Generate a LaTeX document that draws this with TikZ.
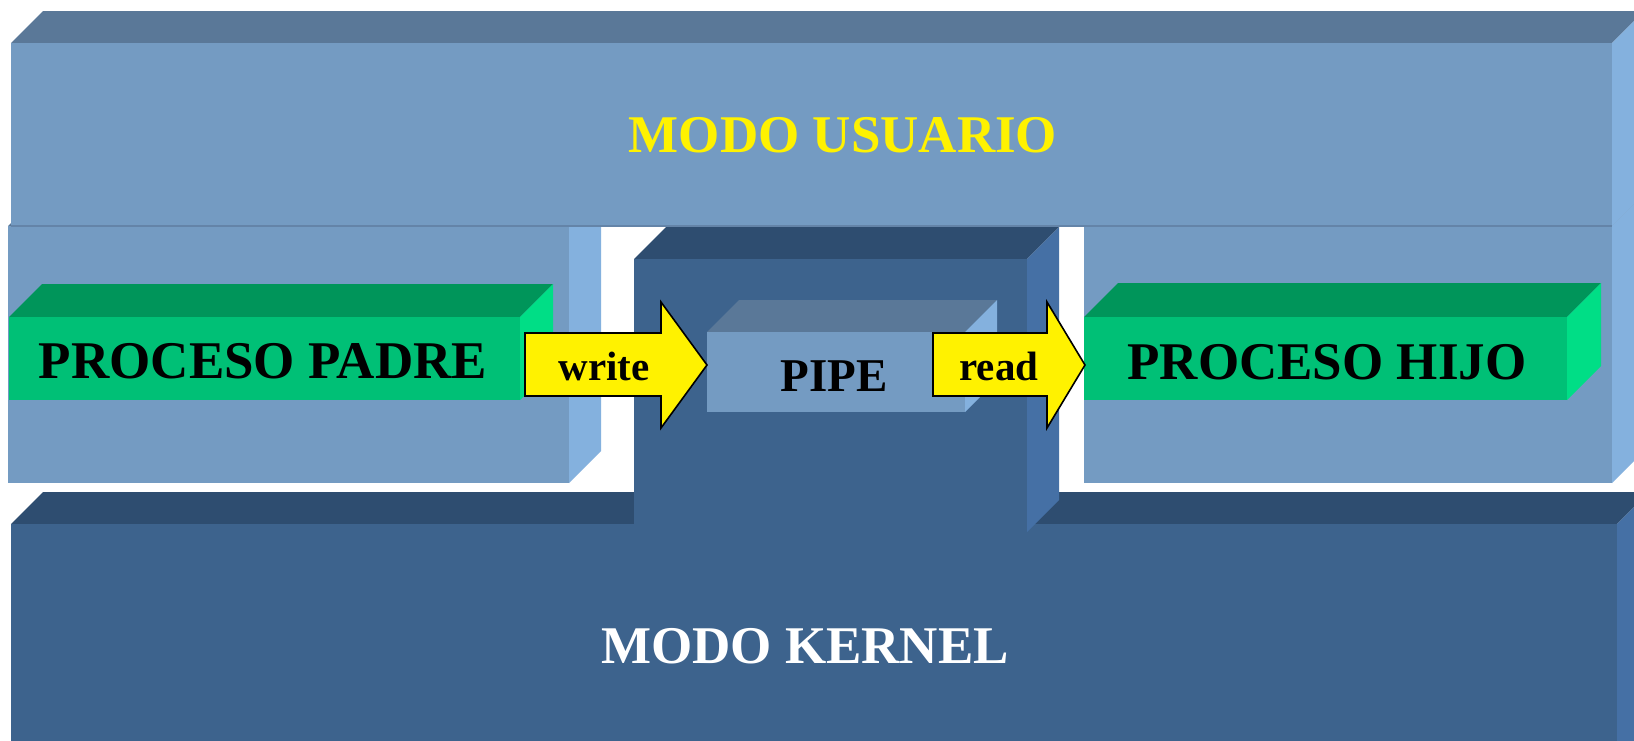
\documentclass[tikz,border=0pt]{standalone}
\usepackage{fontspec}
\setmainfont{Liberation Serif}
\definecolor{ufront}{RGB}{116,155,194}
\definecolor{utop}{RGB}{90,120,152}
\definecolor{uside}{RGB}{132,177,222}
\definecolor{uedge}{RGB}{100,132,168}
\definecolor{kfront}{RGB}{61,99,141}
\definecolor{ktop}{RGB}{46,77,112}
\definecolor{kside}{RGB}{69,112,165}
\definecolor{gfront}{RGB}{0,192,118}
\definecolor{gtop}{RGB}{0,149,90}
\definecolor{gside}{RGB}{0,222,134}
\newcommand{\mycuboid}[8]{%
  \fill[#6] (#1,#2) -- (#1+#5,#2-#5) -- (#3+#5,#2-#5) -- (#3,#2) -- cycle;
  \fill[#8] (#3,#2) -- (#3+#5,#2-#5) -- (#3+#5,#4-#5) -- (#3,#4) -- cycle;
  \fill[#7] (#1,#2) rectangle (#3,#4);
}
\tikzset{
  bigtxt/.style={font=\fontsize{53}{60}\selectfont\bfseries, inner sep=0pt, anchor=base},
  pipetxt/.style={font=\fontsize{47}{54}\selectfont\bfseries, inner sep=0pt, anchor=base},
  arrtxt/.style={font=\fontsize{41}{48}\selectfont\bfseries, inner sep=0pt, anchor=base},
  yarrow/.style={fill=yellow, draw=black, line width=1.6pt, line join=miter},
}
\begin{document}
\begin{tikzpicture}[x=1pt,y=-1pt]
\useasboundingbox (0,0) rectangle (1634,740);
\clip (0,0) rectangle (1634,740);
\fill[white] (0,0) rectangle (1634,740);
% kernel box
\mycuboid{11}{524}{1617}{790}{32}{ktop}{kfront}{kside}
% process containers
\mycuboid{8}{226}{569}{483}{32}{utop}{ufront}{uside}
\mycuboid{1084}{226}{1612}{483}{32}{utop}{ufront}{uside}
% user mode box
\mycuboid{11}{43}{1612}{226}{32}{utop}{ufront}{uside}
\draw[uedge, line width=1.2pt] (11,226) -- (1612,226);
% pipe box
\mycuboid{634}{259}{1027}{532}{32}{ktop}{kfront}{kside}
% pipe inner box
\mycuboid{707}{332}{965}{412}{32}{utop}{ufront}{uside}
% green process boxes
\mycuboid{9}{317}{520}{400}{33}{gtop}{gfront}{gside}
\mycuboid{1084}{317}{1567}{400}{34}{gtop}{gfront}{gside}
% arrows
\coordinate (wt) at (707,365);
\coordinate (rt) at (1085,365);
\draw[yarrow] (525,333) -- (661,333) -- (661,302) -- (wt) -- (661,428) -- (661,396) -- (525,396) -- cycle;
\draw[yarrow] (933,333) -- (1047,333) -- (1047,302) -- (rt) -- (1047,428) -- (1047,396) -- (933,396) -- cycle;
% texts
\node[bigtxt, text=yellow] (usuario) at (843,152) {MODO USUARIO};
\node[bigtxt, text=white] (kernel) at (805,663) {MODO KERNEL};
\node[bigtxt] (padre) at (263,378) {PROCESO PADRE};
\node[bigtxt] (hijo) at (1327,379) {PROCESO HIJO};
\node[pipetxt] (pipe) at (834,391) {PIPE};
\node[arrtxt] (write) at (604,380) {write};
\node[arrtxt] (read) at (999,380) {read};
\end{tikzpicture}
\end{document}
